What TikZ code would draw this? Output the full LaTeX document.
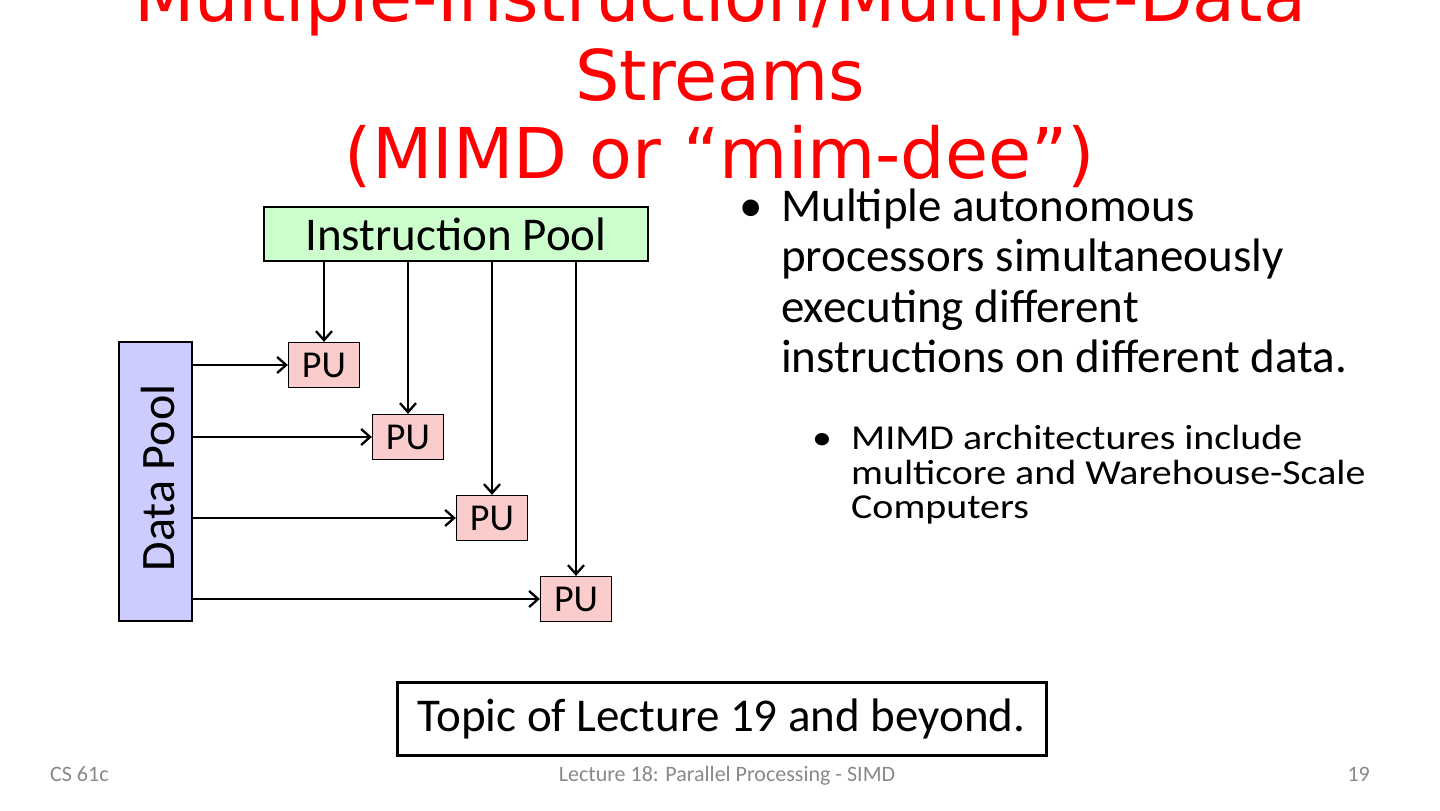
\documentclass[tikz,border=0pt]{standalone}
\usepackage{fontspec}
\setmainfont{Carlito}
\newfontfamily\titlefont{DejaVu Sans}
\newfontfamily\subfont[FakeStretch=1.14]{Carlito}
\usetikzlibrary{arrows.meta}
\definecolor{ipfill}{RGB}{204,255,204}
\definecolor{dpfill}{RGB}{204,204,255}
\definecolor{pufill}{RGB}{250,204,204}
\definecolor{titlered}{RGB}{255,0,0}
\definecolor{footgray}{RGB}{137,137,137}
\tikzset{
  poolbox/.style={draw=black, line width=1.4pt, inner sep=0pt},
  pubox/.style={draw=black, line width=1.3pt, fill=pufill, minimum width=71pt, minimum height=45pt, inner sep=0pt, font=\fontsize{38}{38}\selectfont},
  arr/.style={line width=2.3pt, -{Straight Barb[length=9pt,width=16pt]}},
  titleline/.style={anchor=base, inner sep=0pt, text=titlered, font=\titlefont\fontsize{70}{70}\selectfont},
  mainline/.style={anchor=base west, inner sep=0pt, font=\fontsize{47}{47}\selectfont},
  subline/.style={anchor=base west, inner sep=0pt, font=\subfont\fontsize{35}{35}\selectfont},
  footer/.style={inner sep=0pt, text=footgray, font=\fontsize{22}{22}\selectfont},
}
\begin{document}
\begin{tikzpicture}[x=1pt,y=-1pt]
\useasboundingbox (0,0) rectangle (1440,811);
\fill[white] (0,0) rectangle (1440,811);

% title
\node[titleline] (t1) at (720,21) {Multiple-Instruction/Multiple-Data};
\node[titleline] (t2) at (720,100) {Streams};
\node[titleline] (t3) at (720,178) {(MIMD or “mim-dee”)};

% pools
\node[poolbox, fill=ipfill, minimum width=384pt, minimum height=54pt, font=\fontsize{47}{47}\selectfont] (ip) at (456,234) {Instruction Pool};
\node[poolbox, fill=dpfill, minimum width=73pt, minimum height=279pt] (dp) at (155.5,481.5) {};
\node[anchor=base, inner sep=0pt, rotate=90, font=\fontsize{48}{48}\selectfont] (dptext) at (174,478) {Data Pool};

% processing units
\node[pubox] (pu1) at (324,365) {PU};
\node[pubox] (pu2) at (408,437) {PU};
\node[pubox] (pu3) at (492,518) {PU};
\node[pubox] (pu4) at (576,599) {PU};

% connectors
\foreach \p in {pu1,pu2,pu3,pu4}{
  \draw[arr] (ip.south -| \p.north) -- (\p.north);
  \draw[arr] (dp.east |- \p.west) -- (\p.west);
}

% bullets
\node[mainline] (b1) at (739,221) {•};
\node[mainline] (l1) at (781,221) {Multiple autonomous};
\node[mainline] (l2) at (781,271) {processors simultaneously};
\node[mainline] (l3) at (781,322) {executing different};
\node[mainline] (l4) at (781,372) {instructions on different data.};
\node[subline] (b2) at (812,449) {•};
\node[subline] (s1) at (851,449) {MIMD architectures include};
\node[subline] (s2) at (851,484) {multicore and Warehouse-Scale};
\node[subline] (s3) at (851,518) {Computers};

% topic box
\node[draw=black, line width=3pt, fill=white, minimum width=649pt, minimum height=73pt, inner sep=0pt, font=\fontsize{47}{47}\selectfont] (topic) at (721.5,718.5) {Topic of Lecture 19 and beyond.};

% footer
\node[footer, anchor=base west] (f1) at (50,781) {CS 61c};
\node[footer, anchor=base] (f2) at (727,781) {Lecture 18: Parallel Processing - SIMD};
\node[footer, anchor=base east] (f3) at (1370,781) {19};
\end{tikzpicture}
\end{document}
